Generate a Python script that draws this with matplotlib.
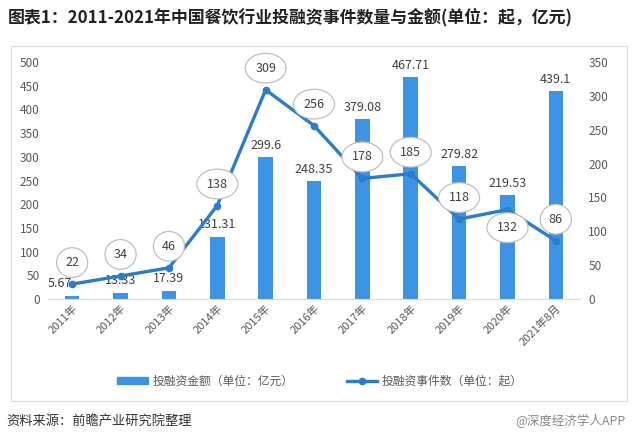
import numpy as np
import matplotlib
matplotlib.use("Agg")
import matplotlib.pyplot as plt
from matplotlib.patches import Rectangle, BoxStyle
from matplotlib.lines import Line2D

plt.rcParams['font.family'] = ['Noto Sans CJK SC', 'DejaVu Sans']

# data
years = ['2011年', '2012年', '2013年', '2014年', '2015年', '2016年',
         '2017年', '2018年', '2019年', '2020年', '2021年8月']
amount = [5.67, 13.33, 17.39, 131.31, 299.6, 248.35, 379.08, 467.71, 279.82, 219.53, 439.1]
events = [22, 34, 46, 138, 309, 256, 178, 185, 118, 132, 86]
amount_labels = ['5.67', '13.33', '17.39', '131.31', '299.6', '248.35',
                 '379.08', '467.71', '279.82', '219.53', '439.1']

bar_color = '#3d94e6'
line_color = '#2b7dcc'
text_grey = '#595959'

fig = plt.figure(figsize=(6.4, 4.38), dpi=100)

# outer light frame
fig.patches.append(Rectangle((11 / 640, 1 - 401 / 438), 616 / 640, 355 / 438,
                             transform=fig.transFigure, fill=False,
                             edgecolor='#d9d9d9', linewidth=0.8))

ax = fig.add_axes([48 / 640, 1 - 299 / 438, 532 / 640, 237 / 438])
ax2 = ax.twinx()

x = np.arange(len(years))
ax.bar(x, amount, width=0.3, color=bar_color, zorder=2)
ax.set_ylim(0, 500)
ax.set_yticks(np.arange(0, 501, 50))
ax.set_xlim(-0.5, len(years) - 0.5)
ax.set_xticks(x)
ax.set_xticklabels(years, rotation=45, ha='right', rotation_mode='anchor')

# bar value labels (offsets in points)
bar_off = {0: (-9, 9)}
for i, (v, s) in enumerate(zip(amount, amount_labels)):
    dx, dy = bar_off.get(i, (0, 8.5))
    ax.annotate(s, (x[i], v), xytext=(dx, dy), textcoords='offset points',
                ha='center', va='center', fontsize=9, color='#404040', zorder=3)

ax2.plot(x, events, color=line_color, linewidth=2.4, marker='o', markersize=4.5, zorder=4)
ax2.set_ylim(0, 350)
ax2.set_yticks(np.arange(0, 351, 50))

styles = BoxStyle.get_styles()
box = 'ellipse,pad=0.32' if 'ellipse' in styles else 'round,pad=0.32,rounding_size=0.9'
for i, v in enumerate(events):
    dy = -13 if i == 9 else 15.5
    ax2.annotate(str(v), (x[i], v), xytext=(0, dy), textcoords='offset points',
                 ha='center', va='center', fontsize=9, color='#404040', zorder=5,
                 bbox=dict(boxstyle=box, fc='white', ec='#bfbfbf', lw=0.9))

for a in (ax, ax2):
    for sp in a.spines.values():
        sp.set_visible(False)
    a.tick_params(axis='y', length=0, labelsize=8.5, labelcolor=text_grey, pad=6)
ax.spines['bottom'].set_visible(True)
ax.spines['bottom'].set_color('#d9d9d9')
ax.tick_params(axis='x', length=0, labelsize=8, labelcolor=text_grey, pad=3)

# legend
handles = [Rectangle((0, 0), 1, 1, color=bar_color),
           Line2D([0], [0], color=line_color, lw=2.4, marker='o', markersize=4.5)]
fig.legend(handles, ['投融资金额（单位：亿元）', '投融资事件数（单位：起）'],
           loc='center', bbox_to_anchor=(0.5, 1 - 381 / 438), ncol=2, frameon=False,
           fontsize=8.5, labelcolor=text_grey, handlelength=2.6, columnspacing=4.5,
           handleheight=0.5, handletextpad=0.4)

fig.text(8 / 640, 1 - 17 / 438, '图表1：2011-2021年中国餐饮行业投融资事件数量与金额(单位：起，亿元)',
         fontsize=12.2, fontweight='bold', color='#222222', ha='left', va='center')
fig.text(6 / 640, 1 - 421 / 438, '资料来源：前瞻产业研究院整理', fontsize=9.5,
         color='#333333', ha='left', va='center')
fig.text(626 / 640, 1 - 421 / 438, '@深度经济学人APP', fontsize=9,
         color='#888888', ha='right', va='center')

fig.savefig('out.png', dpi=100)
